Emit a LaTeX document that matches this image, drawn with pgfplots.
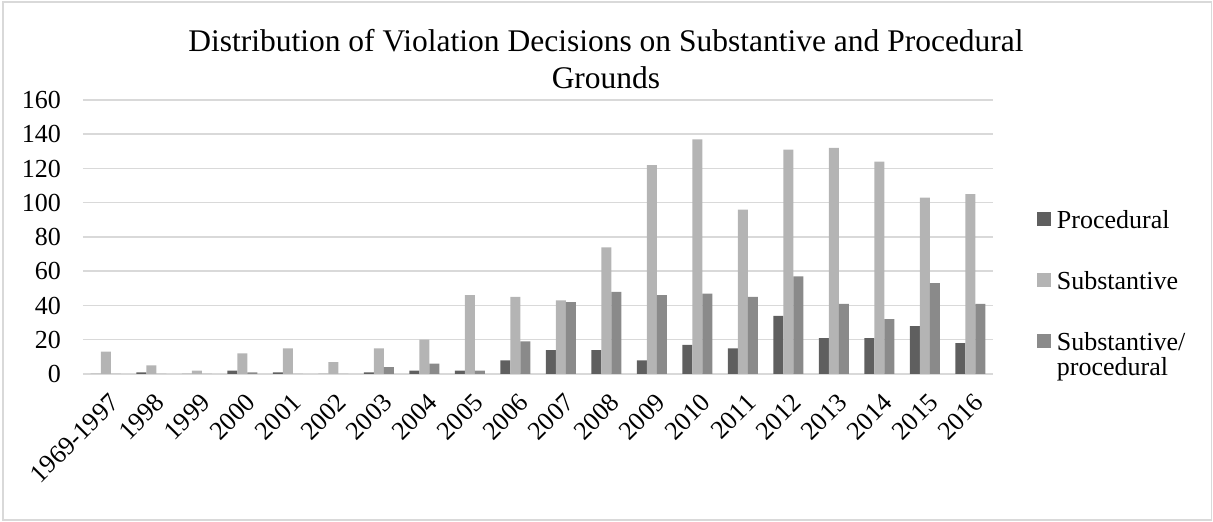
\documentclass[border=0pt]{standalone}
\usepackage{fontspec}
\setmainfont{Liberation Serif}
\usepackage{pgfplots}
\pgfplotsset{compat=1.18}
\definecolor{proc}{HTML}{5F5F5F}
\definecolor{subst}{HTML}{B4B4B4}
\definecolor{both}{HTML}{8A8A8A}
\definecolor{gridc}{HTML}{D9D9D9}
\begin{document}
\begin{tikzpicture}
\path[use as bounding box] (0pt,0pt) rectangle (1213pt,522pt);
\draw[gridc, line width=1.3pt] (3pt,2pt) rectangle (1211.5pt,520pt);
\node[anchor=base, inner sep=0pt, font=\fontsize{31.5}{37}\selectfont] at (606pt,470pt)
  {\begin{tabular}[t]{@{}c@{}}Distribution of Violation Decisions on Substantive and Procedural\\Grounds\end{tabular}};
\begin{axis}[
  at={(83pt,148pt)}, anchor=south west,
  scale only axis, width=910pt, height=274pt,
  ybar=0pt, bar width=10pt,
  xmin=-0.5, xmax=19.5, ymin=0, ymax=160,
  xtick={0,...,19},
  xticklabels={1969-1997,1998,1999,2000,2001,2002,2003,2004,2005,2006,2007,2008,2009,2010,2011,2012,2013,2014,2015,2016},
  ytick={0,20,...,160},
  ymajorgrids, grid style={gridc, line width=1.5pt},
  axis line style={draw=none},
  major tick length=0pt,
  tick label style={font=\fontsize{26}{28}\selectfont},
  /pgf/number format/assume math mode=true,
  yticklabel style={anchor=east, inner sep=0pt, xshift=-22pt},
  xticklabel style={xshift=2.5pt, yshift=-18pt, rotate=45, anchor=north east, inner sep=0pt},
  legend style={at={(axis description cs:1.048,0.5967)}, anchor=north west,
    draw=none, inner sep=0pt, row sep=41.5pt, column sep=6pt,
    nodes={inner sep=0pt}, cells={anchor=base west},
    font=\fontsize{26}{23.5}\selectfont},
  legend image code/.code={\fill[#1] (0pt,3.2pt) rectangle (14pt,16.7pt);},
]
\addplot[fill=proc, draw=none] coordinates {
(0,0)(1,1)(2,0)(3,2)(4,1)(5,0)(6,1)(7,2)(8,2)(9,8)
(10,14)(11,14)(12,8)(13,17)(14,15)(15,34)(16,21)(17,21)(18,28)(19,18)};
\addlegendentry{Procedural}
\addplot[fill=subst, draw=none] coordinates {
(0,13)(1,5)(2,2)(3,12)(4,15)(5,7)(6,15)(7,20)(8,46)(9,45)
(10,43)(11,74)(12,122)(13,137)(14,96)(15,131)(16,132)(17,124)(18,103)(19,105)};
\addlegendentry{Substantive}
\addplot[fill=both, draw=none] coordinates {
(0,0)(1,0)(2,0)(3,1)(4,0)(5,0)(6,4)(7,6)(8,2)(9,19)
(10,42)(11,48)(12,46)(13,47)(14,45)(15,57)(16,41)(17,32)(18,53)(19,41)};
\addlegendentry{\begin{tabular}[t]{@{}l@{}}Substantive/\\procedural\end{tabular}}
\end{axis}
\end{tikzpicture}
\end{document}
